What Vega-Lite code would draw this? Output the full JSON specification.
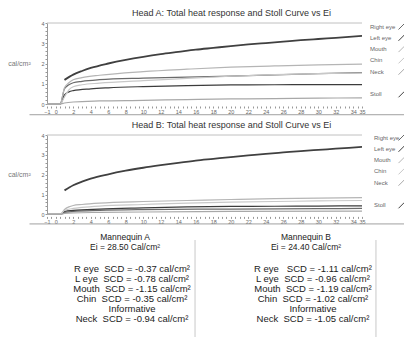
{
  "$schema": "https://vega.github.io/schema/vega-lite/v6.json",
  "background": "white",
  "padding": {"left": 7, "top": 9, "right": 0, "bottom": 0},
  "config": {
    "font": "Liberation Sans",
    "view": {"stroke": null},
    "concat": {"spacing": 5},
    "title": {"fontWeight": "normal", "fontSize": 9, "color": "#333333"}
  },
  "resolve": {"scale": {"color": "independent"}, "legend": {"color": "independent"}},
  "datasets": {
    "curves": [
      {"h":"A","s":"Right eye","t":-1,"v":0},{"h":"A","s":"Right eye","t":0.5,"v":0},{"h":"A","s":"Right eye","t":1,"v":0.75},{"h":"A","s":"Right eye","t":1.5,"v":0.95},{"h":"A","s":"Right eye","t":2,"v":1.05},{"h":"A","s":"Right eye","t":3,"v":1.12},{"h":"A","s":"Right eye","t":5,"v":1.2},{"h":"A","s":"Right eye","t":10,"v":1.28},{"h":"A","s":"Right eye","t":15,"v":1.33},{"h":"A","s":"Right eye","t":20,"v":1.38},{"h":"A","s":"Right eye","t":25,"v":1.44},{"h":"A","s":"Right eye","t":30,"v":1.5},{"h":"A","s":"Right eye","t":35,"v":1.55},
      {"h":"A","s":"Left eye","t":-1,"v":0},{"h":"A","s":"Left eye","t":0.5,"v":0},{"h":"A","s":"Left eye","t":1,"v":0.45},{"h":"A","s":"Left eye","t":1.5,"v":0.6},{"h":"A","s":"Left eye","t":2,"v":0.66},{"h":"A","s":"Left eye","t":4,"v":0.75},{"h":"A","s":"Left eye","t":6,"v":0.8},{"h":"A","s":"Left eye","t":10,"v":0.86},{"h":"A","s":"Left eye","t":15,"v":0.91},{"h":"A","s":"Left eye","t":20,"v":0.94},{"h":"A","s":"Left eye","t":25,"v":0.95},{"h":"A","s":"Left eye","t":30,"v":0.96},{"h":"A","s":"Left eye","t":35,"v":0.96},
      {"h":"A","s":"Mouth","t":-1,"v":0},{"h":"A","s":"Mouth","t":0.5,"v":0},{"h":"A","s":"Mouth","t":1,"v":0.8},{"h":"A","s":"Mouth","t":1.5,"v":1.05},{"h":"A","s":"Mouth","t":2,"v":1.2},{"h":"A","s":"Mouth","t":3,"v":1.3},{"h":"A","s":"Mouth","t":5,"v":1.42},{"h":"A","s":"Mouth","t":10,"v":1.6},{"h":"A","s":"Mouth","t":15,"v":1.72},{"h":"A","s":"Mouth","t":20,"v":1.82},{"h":"A","s":"Mouth","t":25,"v":1.88},{"h":"A","s":"Mouth","t":30,"v":1.93},{"h":"A","s":"Mouth","t":35,"v":1.97},
      {"h":"A","s":"Chin","t":-1,"v":0},{"h":"A","s":"Chin","t":0.5,"v":0},{"h":"A","s":"Chin","t":1,"v":0.35},{"h":"A","s":"Chin","t":1.5,"v":0.7},{"h":"A","s":"Chin","t":2,"v":0.85},{"h":"A","s":"Chin","t":3,"v":0.95},{"h":"A","s":"Chin","t":5,"v":1.03},{"h":"A","s":"Chin","t":10,"v":1.15},{"h":"A","s":"Chin","t":15,"v":1.27},{"h":"A","s":"Chin","t":20,"v":1.37},{"h":"A","s":"Chin","t":25,"v":1.45},{"h":"A","s":"Chin","t":30,"v":1.5},{"h":"A","s":"Chin","t":35,"v":1.53},
      {"h":"A","s":"Neck","t":-1,"v":0},{"h":"A","s":"Neck","t":0.5,"v":0},{"h":"A","s":"Neck","t":1,"v":0.05},{"h":"A","s":"Neck","t":2,"v":0.1},{"h":"A","s":"Neck","t":5,"v":0.15},{"h":"A","s":"Neck","t":10,"v":0.18},{"h":"A","s":"Neck","t":15,"v":0.22},{"h":"A","s":"Neck","t":20,"v":0.25},{"h":"A","s":"Neck","t":25,"v":0.27},{"h":"A","s":"Neck","t":30,"v":0.29},{"h":"A","s":"Neck","t":35,"v":0.3},
      {"h":"A","s":"Stoll","t":1,"v":1.19},{"h":"A","s":"Stoll","t":2,"v":1.45},{"h":"A","s":"Stoll","t":3,"v":1.63},{"h":"A","s":"Stoll","t":4,"v":1.78},{"h":"A","s":"Stoll","t":6,"v":2.0},{"h":"A","s":"Stoll","t":8,"v":2.18},{"h":"A","s":"Stoll","t":10,"v":2.33},{"h":"A","s":"Stoll","t":12,"v":2.46},{"h":"A","s":"Stoll","t":14,"v":2.57},{"h":"A","s":"Stoll","t":16,"v":2.68},{"h":"A","s":"Stoll","t":18,"v":2.77},{"h":"A","s":"Stoll","t":20,"v":2.86},{"h":"A","s":"Stoll","t":22,"v":2.94},{"h":"A","s":"Stoll","t":24,"v":3.01},{"h":"A","s":"Stoll","t":26,"v":3.08},{"h":"A","s":"Stoll","t":28,"v":3.15},{"h":"A","s":"Stoll","t":30,"v":3.21},{"h":"A","s":"Stoll","t":32,"v":3.27},{"h":"A","s":"Stoll","t":35,"v":3.36},
      {"h":"B","s":"Right eye","t":-1,"v":0},{"h":"B","s":"Right eye","t":0.5,"v":0},{"h":"B","s":"Right eye","t":1,"v":0.1},{"h":"B","s":"Right eye","t":2,"v":0.15},{"h":"B","s":"Right eye","t":5,"v":0.2},{"h":"B","s":"Right eye","t":10,"v":0.24},{"h":"B","s":"Right eye","t":20,"v":0.27},{"h":"B","s":"Right eye","t":30,"v":0.29},{"h":"B","s":"Right eye","t":35,"v":0.3},
      {"h":"B","s":"Left eye","t":-1,"v":0},{"h":"B","s":"Left eye","t":0.5,"v":0},{"h":"B","s":"Left eye","t":1,"v":0.15},{"h":"B","s":"Left eye","t":2,"v":0.2},{"h":"B","s":"Left eye","t":5,"v":0.27},{"h":"B","s":"Left eye","t":10,"v":0.33},{"h":"B","s":"Left eye","t":15,"v":0.38},{"h":"B","s":"Left eye","t":20,"v":0.4},{"h":"B","s":"Left eye","t":25,"v":0.41},{"h":"B","s":"Left eye","t":30,"v":0.42},{"h":"B","s":"Left eye","t":35,"v":0.43},
      {"h":"B","s":"Mouth","t":-1,"v":0},{"h":"B","s":"Mouth","t":0.5,"v":0},{"h":"B","s":"Mouth","t":1,"v":0.25},{"h":"B","s":"Mouth","t":1.5,"v":0.38},{"h":"B","s":"Mouth","t":2,"v":0.45},{"h":"B","s":"Mouth","t":3,"v":0.5},{"h":"B","s":"Mouth","t":5,"v":0.57},{"h":"B","s":"Mouth","t":10,"v":0.65},{"h":"B","s":"Mouth","t":15,"v":0.7},{"h":"B","s":"Mouth","t":20,"v":0.75},{"h":"B","s":"Mouth","t":25,"v":0.79},{"h":"B","s":"Mouth","t":30,"v":0.82},{"h":"B","s":"Mouth","t":35,"v":0.85},
      {"h":"B","s":"Chin","t":-1,"v":0},{"h":"B","s":"Chin","t":0.5,"v":0},{"h":"B","s":"Chin","t":1,"v":0.2},{"h":"B","s":"Chin","t":2,"v":0.3},{"h":"B","s":"Chin","t":3,"v":0.35},{"h":"B","s":"Chin","t":5,"v":0.42},{"h":"B","s":"Chin","t":10,"v":0.5},{"h":"B","s":"Chin","t":15,"v":0.57},{"h":"B","s":"Chin","t":20,"v":0.62},{"h":"B","s":"Chin","t":25,"v":0.65},{"h":"B","s":"Chin","t":30,"v":0.68},{"h":"B","s":"Chin","t":35,"v":0.7},
      {"h":"B","s":"Neck","t":-1,"v":0},{"h":"B","s":"Neck","t":0.5,"v":0},{"h":"B","s":"Neck","t":1,"v":0.05},{"h":"B","s":"Neck","t":2,"v":0.08},{"h":"B","s":"Neck","t":5,"v":0.1},{"h":"B","s":"Neck","t":10,"v":0.12},{"h":"B","s":"Neck","t":20,"v":0.15},{"h":"B","s":"Neck","t":35,"v":0.17},
      {"h":"B","s":"Stoll","t":1,"v":1.21},{"h":"B","s":"Stoll","t":2,"v":1.47},{"h":"B","s":"Stoll","t":3,"v":1.65},{"h":"B","s":"Stoll","t":4,"v":1.8},{"h":"B","s":"Stoll","t":6,"v":2.02},{"h":"B","s":"Stoll","t":8,"v":2.2},{"h":"B","s":"Stoll","t":10,"v":2.35},{"h":"B","s":"Stoll","t":12,"v":2.48},{"h":"B","s":"Stoll","t":14,"v":2.6},{"h":"B","s":"Stoll","t":16,"v":2.71},{"h":"B","s":"Stoll","t":18,"v":2.8},{"h":"B","s":"Stoll","t":20,"v":2.89},{"h":"B","s":"Stoll","t":22,"v":2.97},{"h":"B","s":"Stoll","t":24,"v":3.05},{"h":"B","s":"Stoll","t":26,"v":3.12},{"h":"B","s":"Stoll","t":28,"v":3.19},{"h":"B","s":"Stoll","t":30,"v":3.25},{"h":"B","s":"Stoll","t":32,"v":3.31},{"h":"B","s":"Stoll","t":35,"v":3.4}
    ],
    "notes": [
      {"panel":"A","block":"head","line":0,"text":"Mannequin A"},
      {"panel":"A","block":"head","line":1,"text":"Ei = 28.50 Cal/cm²"},
      {"panel":"A","block":"body","line":0,"text":"R eye \u00a0SCD = -0.37 cal/cm²"},
      {"panel":"A","block":"body","line":1,"text":"L eye \u00a0SCD = -0.78 cal/cm²"},
      {"panel":"A","block":"body","line":2,"text":"Mouth \u00a0SCD = -1.15 cal/cm²"},
      {"panel":"A","block":"body","line":3,"text":"Chin \u00a0SCD = -0.35 cal/cm²"},
      {"panel":"A","block":"body","line":4,"text":"Informative"},
      {"panel":"A","block":"body","line":5,"text":"Neck \u00a0SCD = -0.94 cal/cm²"},
      {"panel":"B","block":"head","line":0,"text":"Mannequin B"},
      {"panel":"B","block":"head","line":1,"text":"Ei = 24.40 Cal/cm²"},
      {"panel":"B","block":"body","line":0,"text":"R eye \u00a0\u00a0SCD = -1.11 cal/cm²"},
      {"panel":"B","block":"body","line":1,"text":"L eye \u00a0SCD = -0.96 cal/cm²"},
      {"panel":"B","block":"body","line":2,"text":"Mouth \u00a0SCD = -1.19 cal/cm²"},
      {"panel":"B","block":"body","line":3,"text":"Chin \u00a0SCD = -1.02 cal/cm²"},
      {"panel":"B","block":"body","line":4,"text":"Informative"},
      {"panel":"B","block":"body","line":5,"text":"Neck \u00a0SCD = -1.05 cal/cm²"}
    ]
  },
  "vconcat": [
    {
      "width": 315,
      "height": 81,
      "title": {"text": "Head  A: Total heat response and Stoll Curve vs Ei", "offset": 3, "dx": 27},
      "layer": [
        {
          "data": {"values": [{}]},
          "mark": {"type": "rule", "color": "#c0c0c0", "strokeWidth": 1},
          "encoding": {"y": {"datum": 4, "type": "quantitative"}}
        },
        {
          "data": {"values": [{}]},
          "mark": {"type": "rule", "color": "#a0a0a0", "strokeWidth": 1, "clip": false},
          "encoding": {"x": {"datum": -3, "type": "quantitative"}, "x2": {"datum": 40}, "y": {"datum": -0.53, "type": "quantitative"}}
        },
        {
          "data": {"name": "curves"},
          "transform": [{"filter": "datum.h === 'A'"}],
          "mark": {"type": "line", "interpolate": "monotone"},
          "encoding": {
            "x": {"field": "t", "type": "quantitative", "scale": {"domain": [-1, 35], "nice": false},
              "axis": {"title": null, "tickCount": 72, "labelExpr": "(datum.value % 2 === 0 || datum.value === -1 || datum.value === 35) ? format(datum.value, 'd') : ''", "labelFontSize": 5.5, "labelColor": "#666666", "tickSize": 2, "tickColor": "#999999", "domain": false, "grid": false, "labelPadding": 1, "offset": 2, "labelFlush": false, "labelOverlap": false}},
            "y": {"field": "v", "type": "quantitative", "scale": {"domain": [0, 4], "nice": false},
              "axis": {"title": "cal/cm²", "titleAngle": 0, "titleX": -28, "titleY": 40.5, "titleAlign": "center", "titleBaseline": "middle", "titleFontSize": 7, "titleFontWeight": "normal", "titleColor": "#777777", "tickCount": 20, "labelExpr": "abs(datum.value - round(datum.value)) < 0.001 ? format(datum.value, 'd') : ''", "labelFontSize": 5.5, "labelColor": "#666666", "tickSize": 2, "tickColor": "#999999", "domainColor": "#999999", "grid": false, "labelPadding": 1, "labelOverlap": false, "labelFlush": false}},
            "color": {"field": "s", "type": "nominal",
              "scale": {"domain": ["Right eye", "Left eye", "Mouth", "Chin", "Neck", " ", "Stoll"], "range": ["#6a6a6a", "#3c3c3c", "#b5b5b5", "#c8c8c8", "#a8a8a8", "#ffffff", "#404040"]},
              "legend": {"orient": "none", "legendX": 351, "legendY": 0, "title": null, "symbolType": "M-1,1L1,-1", "symbolSize": 36, "symbolStrokeWidth": 1, "labelFontSize": 6, "labelColor": "#666666", "labelOffset": -35, "labelAlign": "left", "rowPadding": 0.3, "padding": 0}},
            "strokeWidth": {"condition": {"test": "datum.s === 'Stoll'", "value": 1.8}, "value": 1.2}
          }
        }
      ]
    },
    {
      "width": 315,
      "height": 79.4,
      "title": {"text": "Head B:  Total heat response and Stoll Curve vs Ei", "offset": 3, "dx": 27},
      "layer": [
        {
          "data": {"values": [{}]},
          "mark": {"type": "rule", "color": "#c0c0c0", "strokeWidth": 1},
          "encoding": {"y": {"datum": 4, "type": "quantitative"}}
        },
        {
          "data": {"values": [{}]},
          "mark": {"type": "rule", "color": "#a0a0a0", "strokeWidth": 1, "clip": false},
          "encoding": {"x": {"datum": -3, "type": "quantitative"}, "x2": {"datum": 40}, "y": {"datum": -0.48, "type": "quantitative"}}
        },
        {
          "data": {"name": "curves"},
          "transform": [{"filter": "datum.h === 'B'"}],
          "mark": {"type": "line", "interpolate": "monotone"},
          "encoding": {
            "x": {"field": "t", "type": "quantitative", "scale": {"domain": [-1, 35], "nice": false},
              "axis": {"title": null, "tickCount": 72, "labelExpr": "(datum.value % 2 === 0 || datum.value === -1 || datum.value === 35) ? format(datum.value, 'd') : ''", "labelFontSize": 5.5, "labelColor": "#666666", "tickSize": 2, "tickColor": "#999999", "domain": false, "grid": false, "labelPadding": 1, "offset": 2, "labelFlush": false, "labelOverlap": false}},
            "y": {"field": "v", "type": "quantitative", "scale": {"domain": [0, 4], "nice": false},
              "axis": {"title": "cal/cm²", "titleAngle": 0, "titleX": -28, "titleY": 39.7, "titleAlign": "center", "titleBaseline": "middle", "titleFontSize": 7, "titleFontWeight": "normal", "titleColor": "#777777", "tickCount": 20, "labelExpr": "abs(datum.value - round(datum.value)) < 0.001 ? format(datum.value, 'd') : ''", "labelFontSize": 5.5, "labelColor": "#666666", "tickSize": 2, "tickColor": "#999999", "domainColor": "#999999", "grid": false, "labelPadding": 1, "labelOverlap": false, "labelFlush": false}},
            "color": {"field": "s", "type": "nominal",
              "scale": {"domain": ["Right eye", "Left eye", "Mouth", "Chin", "Neck", " ", "Stoll"], "range": ["#6a6a6a", "#3c3c3c", "#b5b5b5", "#c8c8c8", "#a8a8a8", "#ffffff", "#404040"]},
              "legend": {"orient": "none", "legendX": 351, "legendY": -1, "title": null, "symbolType": "M-1,1L1,-1", "symbolSize": 36, "symbolStrokeWidth": 1, "labelFontSize": 6, "labelColor": "#666666", "labelOffset": -31, "labelAlign": "left", "rowPadding": 0.3, "padding": 0}},
            "strokeWidth": {"condition": {"test": "datum.s === 'Stoll'", "value": 1.8}, "value": 1.2}
          }
        }
      ]
    },
    {
      "width": 351,
      "height": 95,
      "data": {"name": "notes"},
      "encoding": {
        "x": {"field": "panel", "type": "nominal", "scale": {"type": "point", "padding": 0.47}, "axis": null},
        "y": {"field": "line", "type": "quantitative", "scale": {"domain": [-0.5, 9], "reverse": true, "nice": false}, "axis": null}
      },
      "layer": [
        {
          "transform": [{"filter": "datum.block === 'head' && datum.line === 0"}],
          "mark": {"type": "rule", "color": "#c8c8c8", "strokeWidth": 1, "xOffset": 63, "clip": false},
          "encoding": {"y": {"datum": 0.5}, "y2": {"datum": 11}}
        },
        {
          "transform": [{"filter": "datum.block === 'head'"}],
          "mark": {"type": "text", "fontSize": 8.5, "color": "#222222", "dx": -7, "dy": 2, "baseline": "middle"},
          "encoding": {"text": {"field": "text"}}
        },
        {
          "transform": [{"filter": "datum.block === 'body'"}],
          "mark": {"type": "text", "fontSize": 9.5, "color": "#222222", "dy": 34.3, "baseline": "middle"},
          "encoding": {"text": {"field": "text"}}
        }
      ]
    }
  ]
}
